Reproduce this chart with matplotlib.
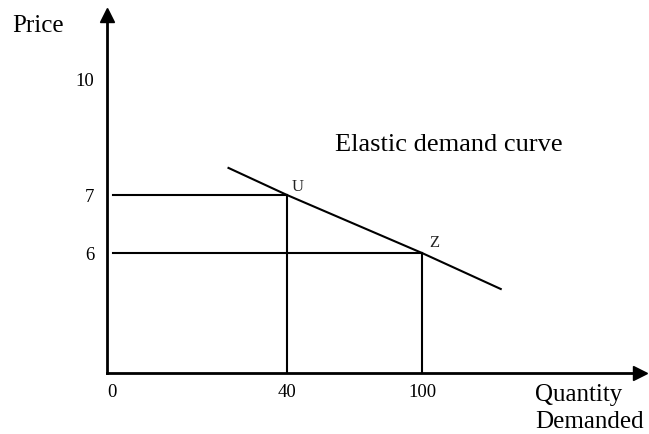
import numpy as np
import matplotlib
matplotlib.use("Agg")
import matplotlib.pyplot as plt

# chart data
quantity_ticks = [0, 40, 100]
price_ticks = [6, 7, 10]
point_names = ["U", "Z"]
point_qty = [40, 100]
point_price = [7, 6]
demand_qty = [27, 40, 100, 135]
demand_price = [7.7, 7, 6, 4.2]
curve_label = "Elastic demand curve"
x_label = ["Quantity", "Demanded"]
y_label = "Price"

# schematic (not to scale) axes: piecewise linear mapping
x_bp_data = [-50, 0, 40, 100, 300]
x_bp_disp = [-225, 0, 180, 315, 765]
y_bp_data = [-10, 0, 6, 7, 10, 30]
y_bp_disp = [-200, 0, 120, 178, 294, 1068]

W, H = 649, 435
plt.rcParams['font.family'] = ['Liberation Serif', 'DejaVu Serif']

fig = plt.figure(figsize=(W / 100, H / 100), dpi=100)
left, right, bottom, top = 107, 640, 374, 16
ax = fig.add_axes([left / W, 1 - bottom / H, (right - left) / W, (bottom - top) / H])

ax.set_xscale('function', functions=(lambda v: np.interp(v, x_bp_data, x_bp_disp),
                                     lambda v: np.interp(v, x_bp_disp, x_bp_data)))
ax.set_yscale('function', functions=(lambda v: np.interp(v, y_bp_data, y_bp_disp),
                                     lambda v: np.interp(v, y_bp_disp, y_bp_data)))
ax.set_xlim(0, 100 + (right - left - 315) / 2.25)
ax.set_ylim(0, 10 + (bottom - top - 294) / 38.7)

for s in ['top', 'right']:
    ax.spines[s].set_visible(False)
for s in ['left', 'bottom']:
    ax.spines[s].set_linewidth(2)
ax.plot(1, 0, '>k', ms=10, transform=ax.get_yaxis_transform(), clip_on=False)
ax.plot(0, 1, '^k', ms=10, transform=ax.get_xaxis_transform(), clip_on=False)

# guide lines from the axis to U and Z
guide_start = 1.3
for q, p in zip(point_qty, point_price):
    ax.plot([guide_start, q], [p, p], color='black', lw=1.5)
    ax.plot([q, q], [0, p], color='black', lw=1.5)

# demand curve
ax.plot(demand_qty, demand_price, color='black', lw=1.5, clip_on=False)

for name, q, p, dx, dy in zip(point_names, point_qty, point_price, [8, 9], [6.5, 8]):
    ax.annotate(name, (q, p), xytext=(dx, dy), textcoords='offset points',
                ha='center', va='center', fontsize=12, color='#222222')

ax.text(61.3, 8.32, curve_label, ha='left', va='center', fontsize=19)

ax.set_xticks(quantity_ticks)
ax.set_xticklabels([str(v) for v in quantity_ticks])
ax.set_yticks(price_ticks)
ax.set_yticklabels([str(v) for v in price_ticks])
ax.tick_params(length=0, labelsize=13.5)
ax.tick_params(axis='x', pad=7)
ax.tick_params(axis='y', pad=9)
ax.get_xticklabels()[0].set_horizontalalignment('left')

fig.text(12 / W, 1 - 26 / H, y_label, ha='left', va='center', fontsize=18)
for line, yc in zip(x_label, [395, 422]):
    fig.text(535 / W, 1 - yc / H, line, ha='left', va='center', fontsize=18)

fig.savefig("out.png", dpi=100)
